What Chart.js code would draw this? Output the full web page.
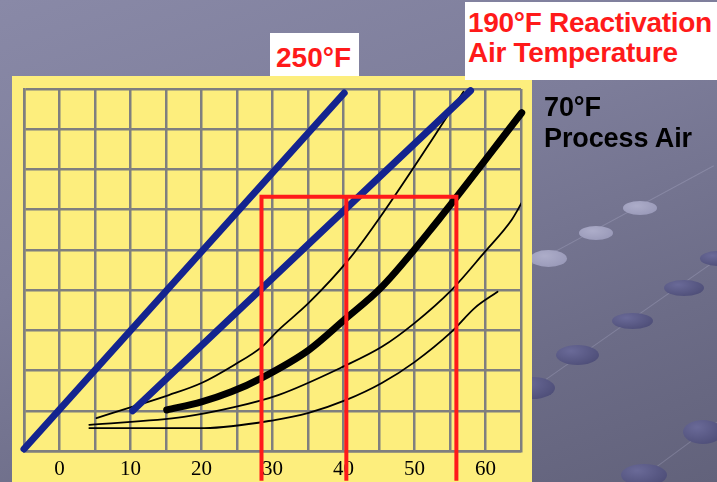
<!DOCTYPE html>
<html>
<head>
<meta charset="utf-8">
<script src="https://cdn.jsdelivr.net/npm/chart.js@4.4.1/dist/chart.umd.min.js"></script>
<style>
html,body{margin:0;padding:0;}
body{width:717px;height:482px;overflow:hidden;position:relative;
  background:linear-gradient(160deg,#8989a7 0%,#7d7d9a 40%,#6c6c87 75%,#62627b 100%);
  font-family:"Liberation Sans",Arial,sans-serif;}
.dot{position:absolute;border-radius:50%;}
.lt{background:radial-gradient(ellipse at 40% 35%,#adadc9 0%,#9494b4 100%);}
.dk{background:radial-gradient(ellipse at 35% 30%,#6a6a98 0%,#474770 100%);}
.ln{position:absolute;height:1px;background:rgba(205,205,230,0.22);transform-origin:0 0;}
#panel{position:absolute;left:12px;top:76px;width:520px;height:406px;background:#fdee7d;}
#wrap{position:absolute;left:0;top:0;width:717px;height:482px;}
.box{position:absolute;background:#fff;color:#ff1a1a;font-weight:bold;font-size:28px;line-height:30px;box-sizing:border-box;white-space:nowrap;}
#b250{left:270px;top:33px;width:89px;height:43px;padding:10px 0 0 6px;}
#b190{left:465px;top:2px;width:252px;height:78px;padding:6px 0 0 3px;letter-spacing:-0.3px;}
#t70{position:absolute;left:544px;top:92px;color:#000;font-weight:bold;font-size:27px;line-height:31px;letter-spacing:-0.1px;white-space:nowrap;}
</style>
</head>
<body>
<div class="ln" style="left:520px;top:270px;width:220px;transform:rotate(-28.4deg);"></div>
<div class="ln" style="left:520px;top:397px;width:240px;transform:rotate(-35deg);"></div>
<div class="ln" style="left:600px;top:508px;width:160px;transform:rotate(-36.5deg);"></div>
<div class="dot lt" style="left:623px;top:201px;width:34px;height:14px;"></div>
<div class="dot lt" style="left:579px;top:226px;width:34px;height:14px;"></div>
<div class="dot lt" style="left:530px;top:250px;width:37px;height:17px;"></div>
<div class="dot dk" style="left:700px;top:251px;width:36px;height:15px;"></div>
<div class="dot dk" style="left:664px;top:280px;width:40px;height:16px;"></div>
<div class="dot dk" style="left:612px;top:313px;width:41px;height:16px;"></div>
<div class="dot dk" style="left:556px;top:345px;width:43px;height:20px;"></div>
<div class="dot dk" style="left:510px;top:377px;width:45px;height:22px;"></div>
<div class="dot dk" style="left:683px;top:420px;width:40px;height:24px;"></div>
<div class="dot dk" style="left:621px;top:464px;width:46px;height:22px;"></div>
<div id="panel"></div>
<div id="wrap"><canvas id="c" width="717" height="482"></canvas></div>
<div class="box" id="b250">250°F</div>
<div class="box" id="b190">190°F Reactivation<br>Air Temperature</div>
<div id="t70">70°F<br>Process Air</div>
<script>
// ---- data (x: horizontal axis units, y: vertical grid units) ----
const xTickLabels = [0, 10, 20, 30, 40, 50, 60];

const line250X = [-5, 40.1];
const line250Y = [0.05, 8.9];

const line190X = [10.3, 57.9];
const line190Y = [1.0, 8.96];

const process70X = [15.1, 20, 24.2, 28.5, 35.1, 40.1, 45.4, 53.4, 65.1];
const process70Y = [1.02, 1.22, 1.47, 1.82, 2.51, 3.26, 4.08, 5.75, 8.41];

const curveAX = [5.2, 10.1, 15.4, 20, 24.6, 28.5, 30.8, 35.1, 40.7, 44.9, 56.9];
const curveAY = [0.82, 1.09, 1.39, 1.69, 2.14, 2.59, 3.0, 3.68, 4.75, 5.75, 8.93];

const curveBX = [4.2, 17.5, 24.6, 30.8, 40.1, 45.4, 50, 55.2, 59.9, 63.7, 65.1];
const curveBY = [0.65, 0.85, 1.09, 1.39, 2.11, 2.59, 3.18, 4.0, 4.95, 5.75, 6.17];

const curveCX = [4.2, 20.4, 30.3, 35.1, 40.4, 45.4, 50, 55.2, 58.5, 61.7];
const curveCY = [0.57, 0.57, 0.77, 0.95, 1.27, 1.69, 2.21, 2.96, 3.56, 3.96];

const redOuterX = [28.45, 28.45, 55.9, 55.9];
const redOuterY = [-0.74, 6.32, 6.32, -0.74];
const redMidX = [40.4, 40.4];
const redMidY = [6.32, -0.74];

const pts = (xs, ys) => xs.map((x, i) => ({x: x, y: ys[i]}));

const thin = (label, xs, ys) => ({
  label: label, data: pts(xs, ys), borderColor: '#000', borderWidth: 1.8,
  cubicInterpolationMode: 'monotone', borderCapStyle: 'round', borderJoinStyle: 'round'
});

new Chart(document.getElementById('c'), {
  type: 'line',
  data: {
    datasets: [
      {label: 'red box', data: pts(redOuterX, redOuterY), borderColor: '#ff1a1a', borderWidth: 4, clip: false, tension: 0, borderJoinStyle: 'miter'},
      {label: 'red mid', data: pts(redMidX, redMidY), borderColor: '#ff1a1a', borderWidth: 4, clip: false, tension: 0},
      {label: '250°F', data: pts(line250X, line250Y), borderColor: '#14248f', borderWidth: 7, borderCapStyle: 'round', clip: false},
      {label: '190°F', data: pts(line190X, line190Y), borderColor: '#14248f', borderWidth: 7, borderCapStyle: 'round', clip: false},
      {label: '70°F Process Air', data: pts(process70X, process70Y), borderColor: '#000', borderWidth: 7,
        cubicInterpolationMode: 'monotone', borderCapStyle: 'round', borderJoinStyle: 'round', clip: false},
      thin('A', curveAX, curveAY),
      thin('B', curveBX, curveBY),
      thin('C', curveCX, curveCY)
    ]
  },
  options: {
    responsive: false,
    animation: false,
    elements: {point: {radius: 0, hoverRadius: 0}},
    plugins: {legend: {display: false}, tooltip: {enabled: false}},
    layout: {padding: {left: 24, top: 89, right: 196, bottom: 0}},
    scales: {
      x: {
        type: 'linear', min: -5, max: 65,
        afterFit: s => { s.height = 31; },
        afterBuildTicks: s => { s.ticks = []; for (let v = -5; v <= 65; v += 5) s.ticks.push({value: v}); },
        ticks: {
          autoSkip: false, maxRotation: 0, minRotation: 0, padding: 6, color: '#000',
          font: {family: '"Liberation Serif", "Times New Roman", serif', size: 21},
          callback: v => xTickLabels.includes(v) ? String(v) : ''
        },
        grid: {color: '#7f7f7f', lineWidth: 2.5, drawTicks: false},
        border: {color: '#7f7f7f', width: 2.5}
      },
      y: {
        type: 'linear', min: 0, max: 9,
        afterFit: s => { s.width = 0; },
        ticks: {display: false, stepSize: 1},
        grid: {color: '#7f7f7f', lineWidth: 2.5, drawTicks: false},
        border: {color: '#7f7f7f', width: 2.5}
      }
    }
  }
});
</script>
</body>
</html>
